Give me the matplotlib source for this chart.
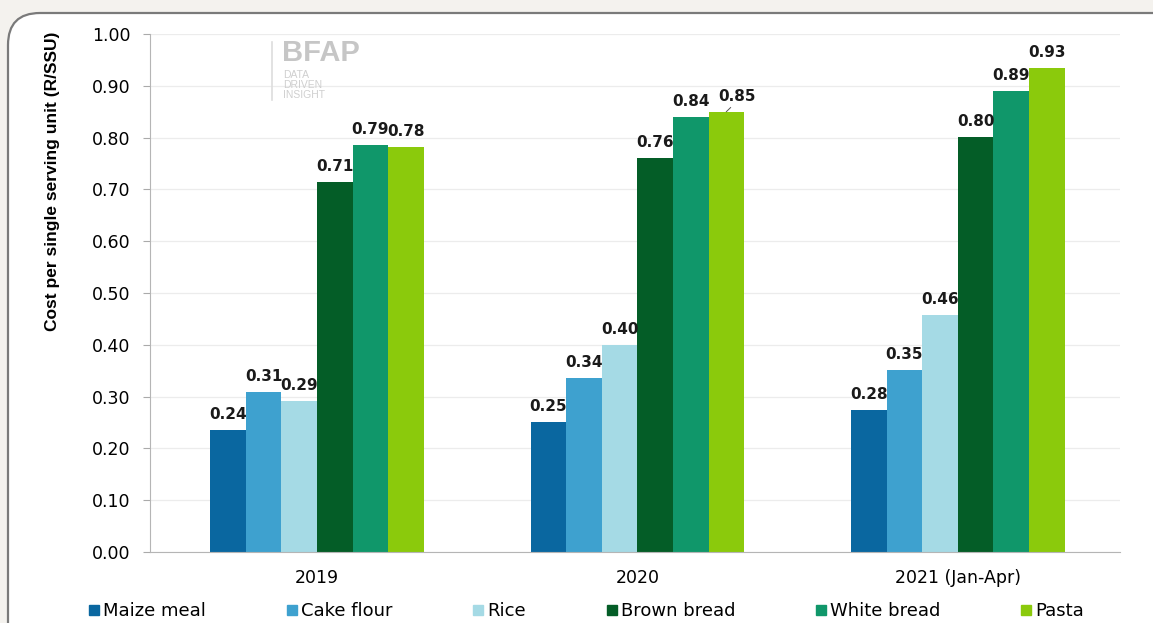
import numpy as np
import matplotlib.pyplot as plt
from matplotlib.patches import FancyBboxPatch
from matplotlib.transforms import IdentityTransform
from matplotlib.lines import Line2D

plt.rcParams['font.family'] = ['DejaVu Sans']

# Data
years = ['2019', '2020', '2021 (Jan-Apr)']
series = ['Maize meal', 'Cake flour', 'Rice', 'Brown bread', 'White bread', 'Pasta']
maize_meal = [0.236, 0.251, 0.275]
cake_flour = [0.309, 0.336, 0.352]
rice = [0.292, 0.400, 0.458]
brown_bread = [0.714, 0.760, 0.802]
white_bread = [0.786, 0.839, 0.889]
pasta = [0.781, 0.849, 0.934]
colors = ['#0a67a0', '#3ea1cf', '#a5dae5', '#045d27', '#10976a', '#8bca0c']

values = [maize_meal, cake_flour, rice, brown_bread, white_bread, pasta]

fig = plt.figure(figsize=(11.53, 6.23), dpi=100)
fig.patch.set_facecolor('#f4f2ee')

# rounded white panel (right and bottom edges run off the picture)
panel = FancyBboxPatch((8, -60), 1200, 670, boxstyle='round,pad=0,rounding_size=32',
                       transform=IdentityTransform(), facecolor='white',
                       edgecolor='#7a7a7a', linewidth=1.6, zorder=-5)
fig.patches.append(panel)

ax = fig.add_axes([150/1153, 1 - 552/623, (1120 - 150)/1153, (552 - 34)/623])
ax.set_facecolor('none')

x = np.arange(len(years))
w = 0.111
for i, (name, vals, c) in enumerate(zip(series, values, colors)):
    xs = x + (i - 2.5) * w
    ax.bar(xs, vals, width=w, color=c, label=name, zorder=2)
    for j, v in enumerate(vals):
        dx = 0.3 * w if (i, j) == (5, 1) else 0
        ax.text(xs[j] + dx, v + 0.030, f'{v:.2f}', ha='center', va='center',
                fontsize=11, fontweight='bold', color='#1a1a1a', zorder=3)
        if (i, j) == (5, 1):
            # small leader line from label to bar
            ax.plot([xs[j], xs[j] + 0.12 * w], [v + 0.001, v + 0.009],
                    color='#555555', lw=0.7, zorder=3)

ax.set_ylim(0, 1.0)
ax.set_xlim(-0.521, 2.506)
ax.set_yticks(np.arange(0, 1.01, 0.1))
ax.set_yticklabels([f'{t:.2f}' for t in np.arange(0, 1.01, 0.1)], fontsize=12.5)
ax.set_xticks(x)
ax.set_xticklabels(years, fontsize=12.5)
ax.tick_params(axis='x', length=0, pad=12)
ax.tick_params(axis='y', length=5, color='#aaaaaa', pad=9)
ax.grid(axis='y', color='#ececec', lw=0.9, zorder=0)
for s in ['top', 'right']:
    ax.spines[s].set_visible(False)
for s in ['left', 'bottom']:
    ax.spines[s].set_color('#b5b5b5')
ax.set_ylabel('Cost per single serving unit (R/SSU)', fontsize=12.5, fontweight='bold',
              family=['Liberation Sans'])
ax.yaxis.set_label_coords(-0.093, 0.715)

# logo text
fig.text(282/1153, 1 - 53/623, 'BFAP', fontsize=21, fontweight='bold', color='#c6c6c6',
         va='center', ha='left', family=['Liberation Sans'])
fig.text(283/1153, 1 - 85/623, 'DATA\nDRIVEN\nINSIGHT', fontsize=7.5, color='#cfcfcf',
         va='center', ha='left', linespacing=0.95, family=['Liberation Sans'])
fig.add_artist(Line2D([272/1153, 272/1153], [1 - 42/623, 1 - 100/623], color='#dddddd', lw=1.2))

handles = [Line2D([], [], marker='s', ls='', color=c, markersize=7.5) for c in colors]
fig.legend(handles, series, loc='center', bbox_to_anchor=(586/1153, 1 - 611/623), ncol=6,
           frameon=False, fontsize=13, handletextpad=0.15, columnspacing=4.4,
           handlelength=0.7)

fig.savefig('out.png', dpi=100, facecolor=fig.get_facecolor())
